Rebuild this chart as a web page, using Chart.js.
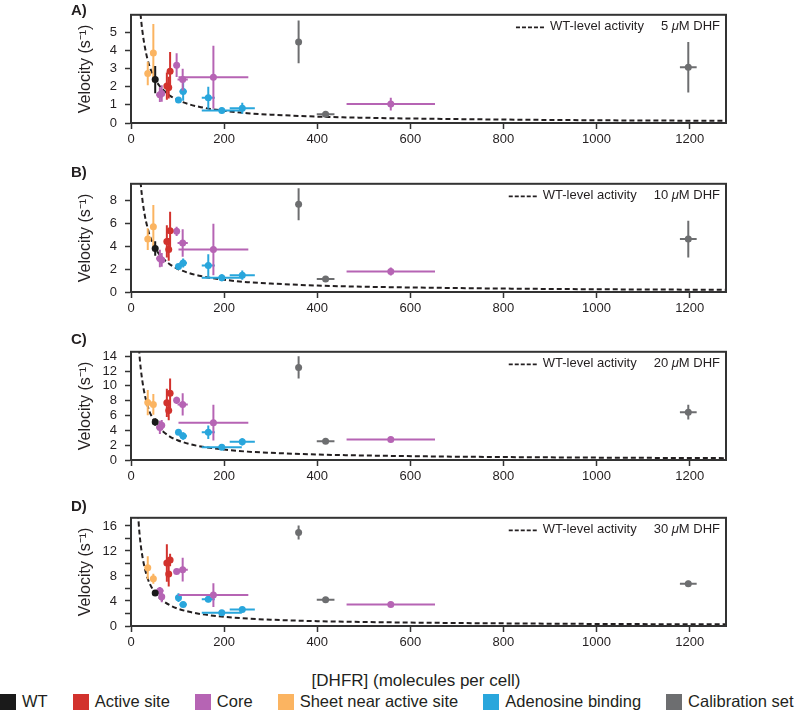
<!DOCTYPE html>
<html lang="en">
<head>
<meta charset="UTF-8" />
<title>DHFR velocity vs abundance</title>
<script src="https://cdn.jsdelivr.net/npm/chart.js"></script>
<style>
  body { margin: 0; background: #fff; font-family: "Liberation Sans", Arial, sans-serif; color: #231f20; }
  #wrap { position: relative; width: 800px; height: 717px; overflow: hidden; }
  .panel { position: absolute; left: 0; }
  .tag { position: absolute; left: 71px; font-weight: bold; font-size: 15px; line-height: 17px; }
  #xtitle { position: absolute; top: 671px; left: 266px; width: 300px; text-align: center; font-size: 17px; }
  #legend { position: absolute; top: 692px; left: 0; display: flex; gap: 25px; font-size: 16.5px; white-space: nowrap; }
  #legend span { display: flex; align-items: center; }
  #legend i { display: inline-block; width: 16px; height: 16px; margin-right: 6px; }
</style>
</head>
<body>
<div id="wrap">
  <canvas id="c0" class="panel" width="800" height="150" style="top:-1px"></canvas>
  <canvas id="c1" class="panel" width="800" height="150" style="top:168px"></canvas>
  <canvas id="c2" class="panel" width="800" height="150" style="top:336px"></canvas>
  <canvas id="c3" class="panel" width="800" height="150" style="top:502px"></canvas>
  <div class="tag" style="top:1px">A)</div>
  <div class="tag" style="top:163px">B)</div>
  <div class="tag" style="top:330px">C)</div>
  <div class="tag" style="top:497px">D)</div>
  <div id="xtitle">[DHFR] (molecules per cell)</div>
  <div id="legend"></div>
</div>

<script>
// ---- data ----
const groups = ['WT', 'Active site', 'Core', 'Sheet near active site', 'Adenosine binding', 'Calibration set'];
const dhfConc = ['5', '10', '20', '30'];
const xTicks = [0, 200, 400, 600, 800, 1000, 1200];
const yMax = [5.95, 9.45, 14.6, 17.3];
const yTicks = [
  [0, 1, 2, 3, 4, 5],
  [0, 2, 4, 6, 8],
  [0, 2, 4, 6, 8, 10, 12, 14],
  [0, 2, 4, 6, 8, 10, 12, 14, 16]
];

// [DHFR] per cell (same mutants in every panel)
const wtX = [52],                          wtXErr = [6];
const activeX = [77, 81, 84],              activeXErr = [3, 3, 3];
const coreX = [62, 66, 98, 111, 177, 558], coreXErr = [8, 6, 3, 11, 75, 95];
const sheetX = [36, 48],                   sheetXErr = [3, 3];
const adenX = [102, 112, 166, 195, 239],   adenXErr = [4, 8, 14, 43, 27];
const calibX = [360, 418, 1197],           calibXErr = [3, 19, 18];

// velocities, one row per panel (5, 10, 20, 30 uM DHF)
const wtY = [[2.39], [3.8], [5.13], [5.28]];
const wtYErr = [[0.75], [0.63], [0.5], [0.4]];
const activeY = [[2.03, 1.95, 2.85], [4.42, 3.72, 5.35], [7.71, 6.68, 9.0], [10.07, 8.3, 10.57]];
const activeYErr = [[0.75, 0.6, 1.05], [1.4, 1.0, 1.65], [1.9, 1.3, 2.0], [3.0, 2.0, 1.0]];
const coreY = [
  [1.55, 1.62, 3.18, 2.39, 2.52, 1.04],
  [2.93, 2.8, 5.3, 4.28, 3.72, 1.8],
  [4.4, 4.7, 8.05, 7.5, 5.04, 2.76],
  [5.64, 4.68, 8.71, 9.01, 4.94, 3.43]
];
const coreYErr = [
  [0.4, 0.45, 0.65, 0.6, 1.73, 0.35],
  [0.77, 0.6, 0.4, 1.2, 2.25, 0.35],
  [0.9, 0.7, 0.5, 1.5, 2.4, 0.25],
  [0.6, 0.9, 0.4, 1.9, 1.9, 0.2]
];
const sheetY = [[2.72, 3.85], [4.62, 5.69], [7.75, 7.5], [9.31, 7.55]];
const sheetYErr = [[0.65, 1.6], [0.95, 1.9], [1.7, 1.4], [1.85, 0.8]];
const adenY = [
  [1.27, 1.73, 1.39, 0.69, 0.81],
  [2.23, 2.53, 2.31, 1.24, 1.47],
  [3.75, 3.23, 3.75, 1.72, 2.45],
  [4.53, 3.43, 4.28, 2.12, 2.62]
];
const adenYErr = [
  [0.1, 0.5, 0.6, 0.15, 0.3],
  [0.15, 0.4, 0.98, 0.3, 0.4],
  [0.3, 0.5, 0.9, 0.3, 0.5],
  [0.7, 0.3, 0.5, 0.2, 0.3]
];
const calibY = [[4.46, 0.48, 3.07], [7.66, 1.13, 4.62], [12.49, 2.54, 6.46], [14.95, 4.18, 6.75]];
const calibYErr = [[1.17, 0.08, 1.39], [1.4, 0.1, 1.6], [1.5, 0.15, 1.0], [1.1, 0.2, 0.5]];

// WT-level activity curve
const curveX = [15, 18, 21, 25, 30, 35, 40, 50, 60, 70, 85, 100, 125, 150, 200, 250, 300, 400, 500, 650, 800, 1000, 1280];
const curveY = [
  [8.2, 6.8, 5.85, 4.95, 4.15, 3.55, 3.1, 2.5, 2.08, 1.8, 1.48, 1.27, 1.03, 0.87, 0.67, 0.54, 0.46, 0.35, 0.29, 0.23, 0.19, 0.15, 0.12],
  [13.1, 10.9, 9.4, 7.9, 6.6, 5.7, 4.95, 4.0, 3.33, 2.88, 2.37, 2.03, 1.65, 1.39, 1.07, 0.86, 0.74, 0.56, 0.46, 0.37, 0.3, 0.24, 0.19],
  [17.2, 14.3, 12.3, 10.4, 8.7, 7.45, 6.5, 5.25, 4.37, 3.78, 3.1, 2.67, 2.16, 1.83, 1.41, 1.13, 0.97, 0.74, 0.61, 0.48, 0.4, 0.32, 0.25],
  [18.0, 15.0, 12.9, 10.9, 9.1, 7.8, 6.8, 5.5, 4.58, 3.96, 3.26, 2.79, 2.27, 1.91, 1.47, 1.19, 1.01, 0.77, 0.64, 0.51, 0.42, 0.33, 0.26]
];

const colors = ['#1a1a1a', '#d2322d', '#b664b4', '#fbb461', '#29a6dc', '#6d6e70'];
const ink = '#231f20';
const FONT = '"Liberation Sans", Arial, sans-serif';

const series = [
  [wtX, wtXErr, wtY, wtYErr],
  [activeX, activeXErr, activeY, activeYErr],
  [coreX, coreXErr, coreY, coreYErr],
  [sheetX, sheetXErr, sheetY, sheetYErr],
  [adenX, adenXErr, adenY, adenYErr],
  [calibX, calibXErr, calibY, calibYErr]
];

// error bars, drawn just before each dataset's points
const errorBars = {
  id: 'errorBars',
  beforeDatasetDraw(chart, args) {
    const ds = chart.data.datasets[args.index];
    if (!ds.yErr) return;
    const { ctx, chartArea: a, scales: { x, y } } = chart;
    ctx.save();
    ctx.beginPath();
    ctx.rect(a.left, a.top, a.width, a.height);
    ctx.clip();
    ctx.strokeStyle = ds.backgroundColor;
    ctx.lineWidth = 2;
    ds.data.forEach((p, i) => {
      const px = x.getPixelForValue(p.x), py = y.getPixelForValue(p.y);
      ctx.beginPath();
      ctx.moveTo(x.getPixelForValue(p.x - ds.xErr[i]), py);
      ctx.lineTo(x.getPixelForValue(p.x + ds.xErr[i]), py);
      ctx.moveTo(px, y.getPixelForValue(p.y - ds.yErr[i]));
      ctx.lineTo(px, y.getPixelForValue(p.y + ds.yErr[i]));
      ctx.stroke();
    });
    ctx.restore();
  }
};

// frame + "WT-level activity  N uM DHF" note
const frameNote = {
  id: 'frameNote',
  afterDraw(chart, args, opts) {
    const { ctx, chartArea: a } = chart;
    ctx.save();
    ctx.strokeStyle = '#333';
    ctx.lineWidth = 2;
    ctx.strokeRect(a.left, a.top, a.width, a.height);

    const ty = a.top + 12;
    const plain = '13px ' + FONT, ital = 'italic 13px ' + FONT;
    ctx.fillStyle = ink;
    ctx.textBaseline = 'middle';
    const parts = [[opts.conc + ' ', plain], ['\u03bc', ital], ['M DHF', plain]];
    let w = 0;
    parts.forEach(p => { ctx.font = p[1]; w += ctx.measureText(p[0]).width; });
    let tx = a.right - 6 - w;
    parts.forEach(p => { ctx.font = p[1]; ctx.fillText(p[0], tx, ty); tx += ctx.measureText(p[0]).width; });

    ctx.font = plain;
    const wt = 'WT-level activity';
    const wtRight = a.right - 6 - w - 17;
    const wtLeft = wtRight - ctx.measureText(wt).width;
    ctx.fillText(wt, wtLeft, ty);
    ctx.beginPath();
    ctx.setLineDash([4, 2]);
    ctx.lineWidth = 1.8;
    ctx.strokeStyle = ink;
    ctx.moveTo(wtLeft - 34, ty + 0.5);
    ctx.lineTo(wtLeft - 4, ty + 0.5);
    ctx.stroke();
    ctx.restore();
  }
};

function makePanel(p) {
  const datasets = [{
    data: curveX.map((x, i) => ({ x, y: curveY[p][i] })),
    showLine: true,
    borderColor: ink,
    borderWidth: 2,
    borderDash: [5, 3],
    pointRadius: 0,
    cubicInterpolationMode: 'monotone',
    order: 10
  }];
  series.forEach((s, g) => {
    datasets.push({
      label: groups[g],
      data: s[0].map((x, i) => ({ x, y: s[2][p][i] })),
      xErr: s[1],
      yErr: s[3][p],
      backgroundColor: colors[g],
      borderWidth: 0,
      pointRadius: 3.5,
      order: 1
    });
  });

  const tickFont = { family: FONT, size: 13 };
  const grid = { drawOnChartArea: false, drawTicks: true, tickLength: 6, tickColor: '#333', tickWidth: 1.5 };

  new Chart(document.getElementById('c' + p), {
    type: 'scatter',
    data: { datasets },
    options: {
      responsive: false,
      animation: false,
      events: [],
      layout: { padding: { left: 76, right: 74, top: 10, bottom: 0 } },
      plugins: {
        legend: { display: false },
        tooltip: { enabled: false },
        frameNote: { conc: dhfConc[p] }
      },
      scales: {
        x: {
          type: 'linear', min: 0, max: 1278,
          afterBuildTicks: s => { s.ticks = xTicks.map(v => ({ value: v })); },
          afterFit: s => { s.height = 26; },
          ticks: { font: tickFont, color: ink, padding: 3, maxRotation: 0, autoSkip: false, callback: v => String(v) },
          grid,
          border: { display: true, color: '#333', width: 2 }
        },
        y: {
          min: 0, max: yMax[p],
          afterBuildTicks: s => { s.ticks = yTicks[p].map(v => ({ value: v })); },
          afterFit: s => { s.width = 55; },
          ticks: {
            font: tickFont, color: ink, padding: 8, autoSkip: false,
            callback: v => (p === 3 && v % 4 !== 0) ? '' : String(v)
          },
          grid,
          border: { display: true, color: '#333', width: 2 },
          title: { display: true, text: 'Velocity (s\u207b\u00b9)', color: ink, font: { family: FONT, size: 16 }, padding: 0 }
        }
      }
    },
    plugins: [errorBars, frameNote]
  });
}

[0, 1, 2, 3].forEach(makePanel);

const legend = document.getElementById('legend');
groups.forEach((g, i) => {
  const item = document.createElement('span');
  item.innerHTML = '<i style="background:' + colors[i] + '"></i>' + g;
  legend.appendChild(item);
});
</script>
</body>
</html>
